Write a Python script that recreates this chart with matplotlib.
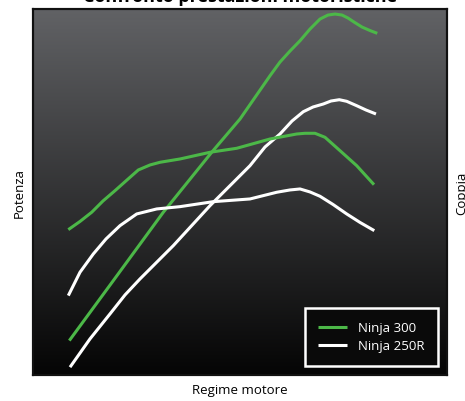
import numpy as np
import matplotlib.pyplot as plt

plt.rcParams['font.family'] = ['Open Sans', 'DejaVu Sans']

# regime motore (x 1000 giri/min)
rpm_p300 = [2.011, 3.587, 5.379, 7.113, 8.128, 9.203, 9.561, 9.919, 10.278, 10.636,
            10.994, 11.281, 11.532, 11.783, 11.998, 12.213, 12.499, 12.786, 13.047]
pot_300 = [3.43, 9.43, 16.27, 22.27, 25.60, 29.93, 31.30, 32.40, 33.43, 34.60,
           35.60, 36.00, 36.10, 36.00, 35.70, 35.30, 34.80, 34.45, 34.17]

rpm_c300 = [1.975, 2.394, 2.813, 3.218, 3.648, 4.078, 4.483, 4.902, 5.261, 5.977,
            7.052, 8.009, 9.203, 10.159, 10.457, 10.815, 11.173, 11.711, 12.309, 12.929]
cop_300 = [14.53, 15.35, 16.27, 17.40, 18.43, 19.50, 20.50, 21.00, 21.27, 21.60,
           22.27, 22.67, 23.60, 24.10, 24.17, 24.17, 23.77, 22.43, 20.93, 19.03]

rpm_p250 = [2.036, 2.752, 3.469, 4.007, 4.544, 5.737, 7.052, 8.485, 9.023, 9.561,
            9.991, 10.396, 10.743, 11.112, 11.388, 11.685, 11.951, 12.309, 12.642, 13.000]
pot_250 = [0.77, 3.60, 6.10, 8.00, 9.60, 12.93, 16.93, 20.93, 22.80, 24.10,
           25.40, 26.33, 26.80, 27.10, 27.40, 27.53, 27.37, 26.93, 26.50, 26.10]

rpm_c250 = [1.975, 2.394, 2.871, 3.326, 3.827, 4.426, 5.142, 5.977, 7.170, 8.485,
            9.442, 9.919, 10.278, 10.636, 10.994, 11.460, 11.951, 12.428, 12.939]
cop_250 = [7.93, 10.27, 12.10, 13.60, 14.93, 16.10, 16.60, 16.83, 17.33, 17.60,
           18.27, 18.50, 18.60, 18.30, 17.87, 17.05, 16.10, 15.25, 14.43]

green = '#4cb848'
white = '#ffffff'

fig = plt.figure(figsize=(4.65, 4.02), dpi=100)
ax = fig.add_axes([0.071, 0.065, 0.890, 0.910])
ax2 = ax.twinx()

xlim = (0.71, 15.54)
ylim = (0.0, 36.6)

# sfondo sfumato
grad = np.linspace(0, 1, 256).reshape(-1, 1)
cmap = plt.matplotlib.colors.LinearSegmentedColormap.from_list('bg', ['#050505', '#616265'])
ax.imshow(grad, extent=[xlim[0], xlim[1], ylim[0], ylim[1]], origin='lower',
          aspect='auto', cmap=cmap, zorder=0)

style = dict(lw=2.2, zorder=3, solid_capstyle='butt', solid_joinstyle='round')
ax.plot(rpm_p300, pot_300, color=green, label='Ninja 300', **style)
ax.plot(rpm_p250, pot_250, color=white, label='Ninja 250R', **style)
ax2.plot(rpm_c300, cop_300, color=green, **style)
ax2.plot(rpm_c250, cop_250, color=white, **style)

for a in (ax, ax2):
    a.set_xlim(*xlim)
    a.set_ylim(*ylim)
    a.set_xticks([])
    a.set_yticks([])
    for s in a.spines.values():
        s.set_color('#111111')
        s.set_linewidth(1.5)

ax.set_title('Confronto prestazioni motoristiche', fontsize=13, fontweight='bold', pad=5.5)
ax.set_xlabel('Regime motore', fontsize=9.5, labelpad=6)
ax.set_ylabel('Potenza', fontsize=9.5, labelpad=5)
ax2.set_ylabel('Coppia', fontsize=9.5, labelpad=6)

leg = ax.legend(loc='lower right', fontsize=9.5, frameon=True, fancybox=False,
                facecolor='#0a0a0a', edgecolor='white', borderaxespad=0.7,
                handlelength=2.2, borderpad=1.0, labelspacing=0.4)
leg.get_frame().set_linewidth(1.8)
leg.get_frame().set_alpha(1)
for t in leg.get_texts():
    t.set_color('white')

fig.savefig('out.png', dpi=100)
